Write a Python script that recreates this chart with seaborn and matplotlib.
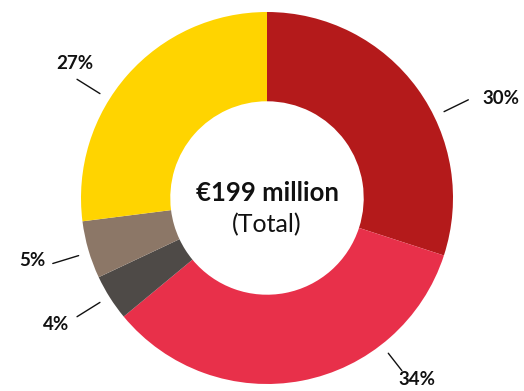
import numpy as np
import matplotlib
matplotlib.use("Agg")
import matplotlib.pyplot as plt
import seaborn as sns

# Data
categories = ["A", "B", "C", "D", "E"]
shares = [30, 34, 4, 5, 27]
labels = ["30%", "34%", "4%", "5%", "27%"]
colors = ["#B41A1B", "#E8304A", "#4E4A47", "#8C7767", "#FFD400"]
center_title = "€199 million"
center_sub = "(Total)"

# Label placement (angle in degrees, text radius) - layout only
label_angles = [23, -50.5, -149, -165, 145]
text_radius = [254, 235, 246, 243, 235]
line_angles = [26, -52, -148, -163, 148]
line_outer = [224, 219, 224, 224, 224]

sns.set_theme(style="white")
plt.rcParams['font.family'] = ['Lato', 'DejaVu Sans']

W, H = 524, 391
fig = plt.figure(figsize=(W / 100, H / 100), dpi=100)
ax = fig.add_axes([0, 0, 1, 1])
cx, cy = 267, H - 198
R = 186
width = 0.48

wedges, _ = ax.pie(shares, colors=colors, startangle=90, counterclock=False,
                   radius=R, center=(cx, cy),
                   wedgeprops=dict(width=R * width, linewidth=0))

for lab, a, tr, la, lo in zip(labels, label_angles, text_radius, line_angles, line_outer):
    t = np.deg2rad(a)
    ax.text(cx + tr * np.cos(t), cy + tr * np.sin(t), lab, ha="center", va="center",
            fontsize=13.5, fontweight="bold", color="#111111")
    l = np.deg2rad(la)
    ax.plot([cx + 197 * np.cos(l), cx + lo * np.cos(l)],
            [cy + 197 * np.sin(l), cy + lo * np.sin(l)], color="#111111", lw=1.0)

ax.text(cx, cy + 5, center_title, ha="center", va="center", fontsize=18.5,
        fontweight="bold", color="#111111")
ax.text(cx, cy - 27, center_sub, ha="center", va="center", fontsize=18,
        color="#111111")

ax.set_xlim(0, W)
ax.set_ylim(0, H)
ax.set_aspect("equal")
ax.axis("off")
fig.savefig("out.png", dpi=100, facecolor="white")
